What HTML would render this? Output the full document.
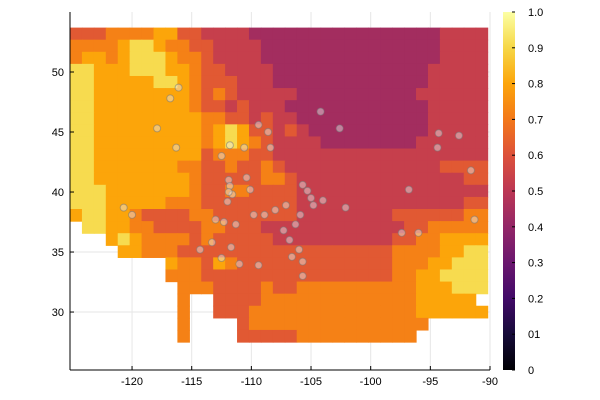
<!DOCTYPE html>
<html><head><meta charset="utf-8"><style>
body{margin:0;background:#fff;}
svg{display:block;font-family:"Liberation Sans",sans-serif;}
</style></head><body>
<svg id="chart" width="600" height="400">
<defs><linearGradient id="cbg" x1="0" y1="1" x2="0" y2="0">
<stop offset="0" stop-color="#000004"/><stop offset="0.1" stop-color="#160b39"/><stop offset="0.2" stop-color="#420a68"/><stop offset="0.3" stop-color="#6a176e"/><stop offset="0.4" stop-color="#932667"/><stop offset="0.5" stop-color="#bc3754"/><stop offset="0.6" stop-color="#dd513a"/><stop offset="0.7" stop-color="#f37819"/><stop offset="0.8" stop-color="#fca50a"/><stop offset="0.9" stop-color="#f6d746"/><stop offset="1" stop-color="#fcffa4"/>
</linearGradient></defs>
<g id="grid"></g>
<g id="cells"></g>
<g id="pts"></g>
<g id="axes"></g>
<g id="cbar"></g>
</svg>
<script>
// grid rows (north to south), each digit is a value level, '.' = missing
const gridRows = [
"66677778866555544444444444444445555",
"77778998776655554444444444444445555",
"78878999877655554444444444444445555",
"99888999887665555444444444444455555",
"99888889987666555444444444444455555",
"99888888887676555554444444444555555",
"99888888887665655544444444444455555",
"99888888888776656554444444444455555",
"99888888888789866565444444444455555",
"99888888888789876555544444444555555",
"99888888888677766555555555555555555",
"99888888877667667655555555555556666",
"99888888887666667765555555555555566",
"99988888887667766665555555555555555",
"99988888777666666665555555555555566",
"89988766667766666665555555566666677",
".9988776666776665555555555556677777",
"...89877776766666555555555566778888",
"....8877766666666666666666677778899",
"........877687666666666666677788999",
"........777666666666666666677889999",
".........77766667667777777777888999",
".........7..6666777777777777788888",
".........7..66677777777777777888888",
".........7....6777777777777777.....",
".........7....666667777777777......"
];
// value for each digit level
const levelValues = [0,0.1,0.2,0.3,0.44,0.53,0.62,0.72,0.8,0.91];
const lonMin = -125.2, lonMax = -90.2, latTop = 53.7, latBot = 27.5;
const xTicks = [-120,-115,-110,-105,-100,-95,-90];
const yTicks = [30,35,40,45,50];
const cbTicks = [0,0.1,0.2,0.3,0.4,0.5,0.6,0.7,0.8,0.9,1.0];
const cbLabels = ["0","01","0.2","0.3","0.4","0.5","0.6","0.7","0.8","0.9","1.0"];
const ptLon = [-116.8,-116.1,-117.9,-116.3,-112.5,-111.8,-110.6,-111.9,-111.8,-111.6,-112.0,-113.0,-112.3,-111.7,-112.5,-111.0,-109.4,-105.7,-105.3,-105.0,-104.8,-105.9,-106.3,-106.8,-106.0,-106.6,-105.7,-105.7,-102.1,-104.0,-107.1,-108.0,-108.9,-109.4,-108.6,-108.4,-109.8,-107.3,-94.3,-92.6,-94.4,-91.6,-96.8,-91.3,-97.4,-96.0,-104.2,-102.6,-110.4,-110.1,-111.3,-113.3,-114.3,-120.7,-120.0,-111.9];
const ptLat = [47.8,48.7,45.3,43.7,43.0,43.9,43.7,41.0,40.5,39.8,39.2,37.7,37.5,35.4,34.5,34.0,33.9,40.6,40.1,39.5,38.9,38.1,37.3,36.0,35.2,34.6,34.2,33.0,38.7,39.3,38.9,38.5,38.1,45.6,45.0,43.7,38.1,36.8,44.9,44.7,43.7,41.8,40.2,37.7,36.6,36.6,46.7,45.3,41.2,40.2,37.3,35.8,35.2,38.7,38.1,40.0];

const NS="http://www.w3.org/2000/svg";
const axX0=70, axX1=490, axY0=12, axY1=370;
const xDom=[-125.2,-90], yDom=[25.17,55];
function sx(lon){return axX0+(lon-xDom[0])/(xDom[1]-xDom[0])*(axX1-axX0);}
function sy(lat){return axY1-(lat-yDom[0])/(yDom[1]-yDom[0])*(axY1-axY0);}
const stops=[[0,[0,0,4]],[.1,[22,11,57]],[.2,[66,10,104]],[.3,[106,23,110]],[.4,[147,38,103]],[.5,[188,55,84]],[.6,[221,81,58]],[.7,[243,120,25]],[.8,[252,165,10]],[.9,[246,215,70]],[1,[252,255,164]]];
function cmap(v){v=Math.max(0,Math.min(1,v));for(let i=1;i<stops.length;i++){if(v<=stops[i][0]){const a=stops[i-1],b=stops[i],t=(v-a[0])/(b[0]-a[0]);return 'rgb('+a[1].map((c,k)=>Math.round(c+(b[1][k]-c)*t)).join(',')+')';}}return 'rgb(252,255,164)';}
function mk(tag,attrs,parent){const e=document.createElementNS(NS,tag);for(const k in attrs)e.setAttribute(k,attrs[k]);parent.appendChild(e);return e;}

const g=document.getElementById('grid');
xTicks.forEach(t=>{const l=mk('line',{x1:sx(t),x2:sx(t),y1:axY0,y2:axY1,stroke:'#e6e6e6','stroke-width':1},g);});
yTicks.forEach(t=>{const l=mk('line',{x1:axX0,x2:axX1,y1:sy(t),y2:sy(t),stroke:'#e6e6e6','stroke-width':1},g);});

const cg=document.getElementById('cells');
const nr=gridRows.length, nc=35;
const cw=(lonMax-lonMin)/nc, ch=(latTop-latBot)/nr;
gridRows.forEach((row,j)=>{for(let i=0;i<nc;i++){const c=row[i];if(c===undefined||c==='.'||c===' ')continue;const v=levelValues[parseInt(c,10)];
const x0=sx(lonMin+i*cw),x1=sx(lonMin+(i+1)*cw),y0=sy(latTop-j*ch),y1=sy(latTop-(j+1)*ch);
const r=mk('rect',{x:x0,y:y0,width:x1-x0+0.6,height:y1-y0+0.6,fill:cmap(v)},cg);

}});

const pg=document.getElementById('pts');
ptLon.forEach((lo,k)=>{const c=mk('circle',{cx:sx(lo),cy:sy(ptLat[k]),r:3.5,fill:'rgba(235,235,235,0.45)',stroke:'rgba(120,120,120,0.55)','stroke-width':1},pg);

});

const ag=document.getElementById('axes');
mk('line',{x1:axX0,x2:axX0,y1:axY0,y2:axY1,stroke:'#000','stroke-width':1},ag);
mk('line',{x1:axX0,x2:axX1,y1:axY1,y2:axY1,stroke:'#000','stroke-width':1},ag);
xTicks.forEach(t=>{mk('line',{x1:sx(t),x2:sx(t),y1:axY1,y2:axY1-4,stroke:'#000'},ag);
const tx=mk('text',{x:sx(t),y:385,'text-anchor':'middle','font-size':11,fill:'#000'},ag);tx.textContent=t;

});
yTicks.forEach(t=>{mk('line',{x1:axX0,x2:axX0+4,y1:sy(t),y2:sy(t),stroke:'#000'},ag);
const tx=mk('text',{x:64,y:sy(t)+4,'text-anchor':'end','font-size':11,fill:'#000'},ag);tx.textContent=t;

});

const cb=document.getElementById('cbar');
const cbx=503,cbw=12;
mk('rect',{x:cbx,y:axY0,width:cbw,height:axY1-axY0,fill:'url(#cbg)'},cb);
cbTicks.forEach((t,k)=>{const y=axY1-t*(axY1-axY0);
mk('line',{x1:cbx+cbw-3,x2:cbx+cbw,y1:y,y2:y,stroke:'#000'},cb);
const tx=mk('text',{x:528,y:y+4,'font-size':11,fill:'#000'},cb);tx.textContent=cbLabels[k];

});
</script>
</body></html>
